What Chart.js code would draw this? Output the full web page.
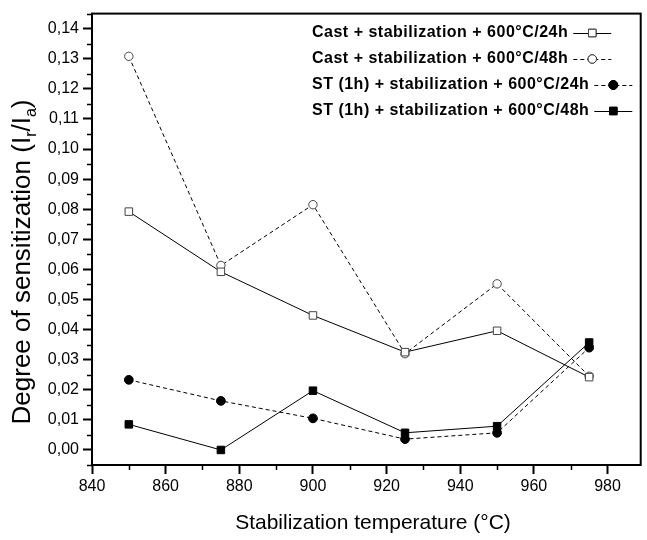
<!DOCTYPE html>
<html>
<head>
<meta charset="utf-8">
<script src="https://cdn.jsdelivr.net/npm/chart.js@4"></script>
<style>
  html, body { margin: 0; padding: 0; background: #fff; overflow: hidden; }
  #wrap { width: 647px; height: 540px; }
</style>
</head>
<body>
<div id="wrap"><canvas id="chart" width="647" height="540"></canvas></div>
<script>
// stabilization temperatures (°C)
const temps = [850, 875, 900, 925, 950, 975];

// degree of sensitization
const cast24 = [0.0792, 0.0592, 0.0447, 0.0325, 0.0396, 0.0242];
const cast48 = [0.1308, 0.0613, 0.0815, 0.0320, 0.0552, 0.0245];
const st24   = [0.0233, 0.0163, 0.0105, 0.0036, 0.0057, 0.0340];
const st48   = [0.0085, 0.0000, 0.0197, 0.0057, 0.0079, 0.0357];

const seriesNames = [
    'Cast + stabilization + 600°C/24h',
    'Cast + stabilization + 600°C/48h',
    'ST (1h) + stabilization + 600°C/24h',
    'ST (1h) + stabilization + 600°C/48h'
];

const xTicks = [840, 860, 880, 900, 920, 940, 960, 980];
const yTicks = [0, 0.01, 0.02, 0.03, 0.04, 0.05, 0.06, 0.07, 0.08, 0.09, 0.10, 0.11, 0.12, 0.13, 0.14];

const toPoints = arr => temps.map((t, i) => ({ x: t, y: arr[i] }));

// look of each series: open square / open circle / filled circle / filled square
const styles = [
    { pointStyle: 'rect',   radius: 5.3, fill: '#fff', edge: '#444', dash: [] },
    { pointStyle: 'circle', radius: 4.2, fill: '#fff', edge: '#444', dash: [4, 3] },
    { pointStyle: 'circle', radius: 4.4, fill: '#000', edge: '#000', dash: [4, 3] },
    { pointStyle: 'rect',   radius: 5.3, fill: '#000', edge: '#000', dash: [] }
];

const datasets = [cast24, cast48, st24, st48].map((arr, i) => ({
    label: seriesNames[i],
    data: toPoints(arr),
    borderColor: '#000',
    borderWidth: 1,
    borderDash: styles[i].dash,
    pointStyle: styles[i].pointStyle,
    pointRadius: styles[i].radius,
    pointBackgroundColor: styles[i].fill,
    pointBorderColor: styles[i].edge,
    pointBorderWidth: 1,
    tension: 0
}));

const FONT = '"Liberation Sans", Arial, sans-serif';

// frame, minor ticks, axis titles and legend, drawn the way the original Origin plot does
const decorations = {
    id: 'decorations',
    afterDraw(chart) {
        const ctx = chart.ctx;
        const area = chart.chartArea;
        const xs = chart.scales.x;
        const ys = chart.scales.y;
        ctx.save();

        // frame
        ctx.strokeStyle = '#000';
        ctx.lineWidth = 2;
        ctx.strokeRect(area.left, area.top, area.right - area.left, area.bottom - area.top);

        // minor ticks
        ctx.lineWidth = 1.5;
        ctx.beginPath();
        for (let v = 850; v < xs.max; v += 20) {
            const px = Math.round(xs.getPixelForValue(v)) + 0.5;
            ctx.moveTo(px, area.bottom);
            ctx.lineTo(px, area.bottom + 5);
        }
        for (let k = -1; k <= 29; k += 2) {
            const v = k * 0.005;
            if (v < ys.min || v > ys.max) continue;
            const py = Math.round(ys.getPixelForValue(v)) + 0.5;
            ctx.moveTo(area.left, py);
            ctx.lineTo(area.left - 5, py);
        }
        ctx.stroke();

        ctx.fillStyle = '#000';

        // x title
        ctx.font = '21px ' + FONT;
        ctx.textAlign = 'center';
        ctx.textBaseline = 'middle';
        ctx.fillText('Stabilization temperature (°C)', 373, 523);

        // y title with subscripts
        const parts = [
            { t: 'Degree of sensitization (I', sub: false },
            { t: 'r', sub: true },
            { t: '/I', sub: false },
            { t: 'a', sub: true },
            { t: ')', sub: false }
        ];
        const big = '26px ' + FONT, small = '16px ' + FONT;
        let total = 0;
        parts.forEach(p => { ctx.font = p.sub ? small : big; p.w = ctx.measureText(p.t).width; total += p.w; });
        ctx.translate(23, 262);
        ctx.rotate(-Math.PI / 2);
        ctx.textAlign = 'left';
        let cx = -total / 2;
        parts.forEach(p => {
            ctx.font = p.sub ? small : big;
            ctx.fillText(p.t, cx, p.sub ? 9 : 0);
            cx += p.w;
        });
        ctx.setTransform(1, 0, 0, 1, 0, 0);

        // legend
        ctx.font = 'bold 16px ' + FONT;
        ctx.letterSpacing = '0.5px';
        ctx.textAlign = 'left';
        ctx.textBaseline = 'middle';
        chart.data.datasets.forEach((ds, i) => {
            const y = 33 + i * 26;
            const x0 = 312;
            ctx.fillStyle = '#000';
            ctx.fillText(ds.label, x0, y);
            const end = x0 + ctx.measureText(ds.label).width;
            const s0 = end + 5, s1 = end + 43;
            ctx.strokeStyle = '#000';
            ctx.lineWidth = 1;
            ctx.setLineDash(ds.borderDash);
            ctx.beginPath();
            ctx.moveTo(s0, y + 0.5);
            ctx.lineTo(s1, y + 0.5);
            ctx.stroke();
            ctx.setLineDash([]);
            Chart.helpers.drawPoint(ctx, {
                pointStyle: ds.pointStyle,
                radius: ds.pointRadius,
                borderWidth: 1
            }, (s0 + s1) / 2, y);
            ctx.fillStyle = ds.pointBackgroundColor;
            ctx.strokeStyle = ds.pointBorderColor;
            ctx.fill();
            ctx.stroke();
        });

        ctx.restore();
    }
};

new Chart(document.getElementById('chart'), {
    type: 'line',
    data: { datasets: datasets },
    options: {
        responsive: false,
        animation: false,
        layout: { padding: { top: 9, right: 1, left: 0, bottom: 0 } },
        plugins: {
            legend: { display: false },
            tooltip: { enabled: false }
        },
        scales: {
            x: {
                type: 'linear',
                min: 840,
                max: 989,
                afterBuildTicks: scale => { scale.ticks = xTicks.map(v => ({ value: v })); },
                afterFit: scale => { scale.height = 75; },
                border: { display: false },
                grid: { drawOnChartArea: false, drawTicks: true, tickLength: 9, tickWidth: 2, tickColor: '#000' },
                ticks: {
                    color: '#000',
                    padding: 3,
                    maxRotation: 0,
                    font: { family: FONT, size: 16 }
                }
            },
            y: {
                min: -0.005,
                max: 0.145,
                afterBuildTicks: scale => { scale.ticks = yTicks.map(v => ({ value: v })); },
                afterFit: scale => { scale.width = 92; },
                border: { display: false },
                grid: { drawOnChartArea: false, drawTicks: true, tickLength: 9, tickWidth: 2, tickColor: '#000' },
                ticks: {
                    color: '#000',
                    padding: 4,
                    font: { family: FONT, size: 16 },
                    callback: v => v.toFixed(2).replace('.', ',')
                }
            }
        }
    },
    plugins: [decorations]
});
</script>
</body>
</html>
